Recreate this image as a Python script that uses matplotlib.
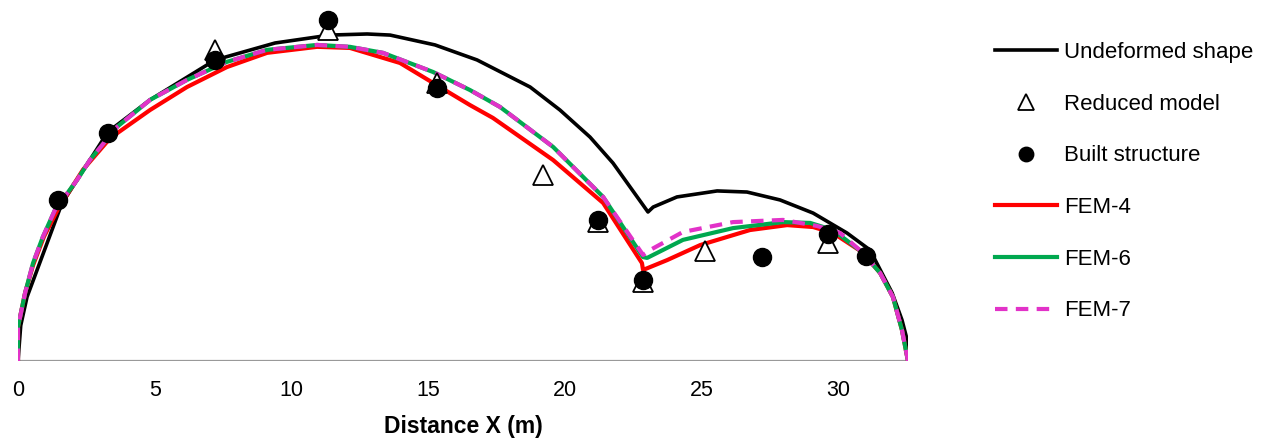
import numpy as np
import matplotlib.pyplot as plt

plt.rcParams['font.family'] = ['Liberation Sans', 'DejaVu Sans']

# undeformed shape (m)
undef_x = [0, 0.1, 0.33, 1.6, 3.29, 4.83, 7.21, 9.40, 11.41, 12.77, 13.61, 15.25, 16.79,
           18.73, 19.82, 20.92, 21.76, 23.04, 23.23, 24.10, 25.57, 26.66, 27.87,
           29.08, 30.32, 31.16, 31.97, 32.33, 32.52, 32.57]
undef_y = [0, 1.3, 2.34, 5.75, 8.38, 9.55, 11.01, 11.63, 11.92, 11.96, 11.92, 11.56, 11.01,
           10.02, 9.18, 8.19, 7.24, 5.45, 5.63, 6.00, 6.22, 6.18, 5.89,
           5.41, 4.68, 4.06, 2.49, 1.50, 0.77, 0]

fem4_x = [0, 0.0, 0.26, 0.55, 0.95, 1.46, 2.38, 3.37, 4.83, 6.18, 7.64, 9.11, 10.94, 12.14,
          13.97, 15.18, 16.53, 17.37, 19.57, 21.40, 22.82, 22.86, 23.74, 24.95, 26.77,
          28.13, 29.08, 29.81, 30.85, 31.53, 32.00, 32.33, 32.55]
fem4_y = [0, 1.24, 2.49, 3.50, 4.55, 5.55, 7.00, 8.15, 9.18, 10.02, 10.75, 11.27, 11.49, 11.45,
          10.90, 10.17, 9.36, 8.89, 7.35, 5.78, 3.58, 3.33, 3.69, 4.24, 4.79,
          4.97, 4.90, 4.68, 4.00, 3.22, 2.34, 1.13, 0]

fem6_x = [0, 0.0, 0.26, 0.55, 0.91, 1.35, 2.16, 2.63, 3.62, 4.83, 6.18, 7.64, 9.11, 10.94,
          12.14, 13.35, 15.18, 16.53, 17.63, 19.57, 21.40, 22.86, 23.01, 24.32, 26.15,
          27.98, 28.97, 29.81, 30.85, 31.53, 32.00, 32.33, 32.55]
fem6_y = [0, 1.24, 2.49, 3.58, 4.54, 5.52, 6.62, 7.35, 8.56, 9.55, 10.28, 10.94, 11.38, 11.56,
          11.49, 11.27, 10.57, 9.91, 9.29, 7.83, 6.00, 3.80, 3.77, 4.43, 4.86,
          5.08, 5.05, 4.79, 4.00, 3.22, 2.34, 1.13, 0]

fem7_x = [0, 0.0, 0.26, 0.55, 0.91, 1.35, 2.16, 2.63, 3.62, 4.83, 6.18, 7.64, 9.11, 10.94,
          12.14, 13.35, 15.18, 16.53, 17.63, 19.57, 21.40, 22.86, 23.12, 24.32, 26.15,
          27.98, 29.22, 30.07, 30.85, 31.53, 32.00, 32.33, 32.55]
fem7_y = [0, 1.24, 2.49, 3.58, 4.54, 5.52, 6.62, 7.35, 8.56, 9.55, 10.28, 10.94, 11.38, 11.56,
          11.49, 11.27, 10.57, 9.91, 9.29, 7.83, 6.00, 3.88, 4.06, 4.72, 5.08,
          5.16, 4.94, 4.68, 4.00, 3.22, 2.34, 1.13, 0]

reduced_x = [7.21, 11.34, 15.32, 19.20, 21.21, 22.86, 25.13, 29.63]
reduced_y = [11.38, 12.11, 10.17, 6.80, 5.08, 2.89, 4.02, 4.32]

built_x = [1.46, 3.29, 7.21, 11.34, 15.32, 21.21, 22.86, 27.21, 29.63, 31.02]
built_y = [5.89, 8.34, 11.01, 12.47, 9.99, 5.16, 2.96, 3.80, 4.65, 3.84]

xticks = [0, 5, 10, 15, 20, 25, 30]

fig = plt.figure(figsize=(12.71, 4.45), dpi=100)
ax = fig.add_axes([18/1271, 84/445, 890/1271, 356/445])

ax.plot(undef_x, undef_y, color='black', lw=2.6, label='Undeformed shape', zorder=2)
ax.plot(reduced_x, reduced_y, ls='none', marker='^', ms=15, mfc='white', mec='black',
        mew=1.3, label='Reduced model', zorder=5)
ax.plot(built_x, built_y, ls='none', marker='o', ms=13, color='black',
        label='Built structure', zorder=6)
ax.plot(fem4_x, fem4_y, color='#FF0000', lw=3, label='FEM-4', zorder=3)
ax.plot(fem6_x, fem6_y, color='#00A84F', lw=3, label='FEM-6', zorder=3.5)
ax.plot(fem7_x, fem7_y, color='#E232C8', lw=3, ls=(0, (3, 2)), label='FEM-7', zorder=4)

ax.axhline(0, color='#999999', lw=1.6, zorder=1)
ax.set_xlim(0, 32.55)
ax.set_ylim(0, 13.02)
ax.set_xticks(xticks)
ax.set_xticklabels([str(t) for t in xticks], fontsize=15.5)
ax.tick_params(axis='x', length=0, pad=14)
ax.set_yticks([])
for s in ax.spines.values():
    s.set_visible(False)
ax.set_xlabel('Distance X (m)', fontsize=16.5, fontweight='bold', labelpad=10)

fig.legend(loc='upper left', bbox_to_anchor=(995/1271, 1 - 42/445), frameon=False,
           fontsize=16, handlelength=2.8, handletextpad=0.3, labelspacing=1.38,
           borderpad=0, borderaxespad=0, markerscale=0.8)

fig.savefig('out.png', dpi=100)
